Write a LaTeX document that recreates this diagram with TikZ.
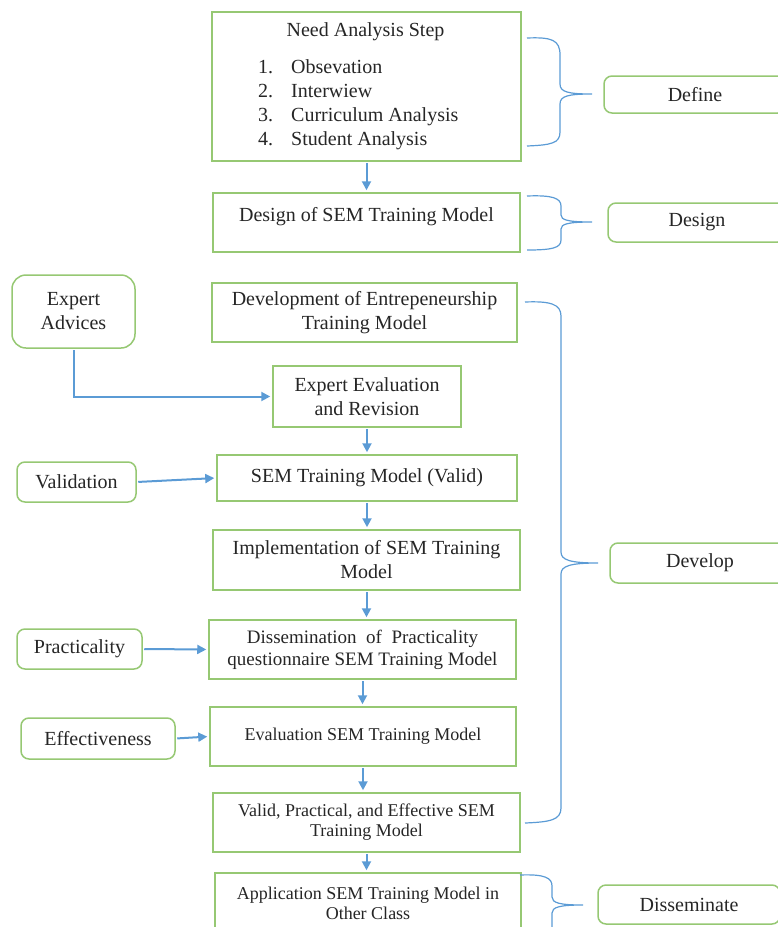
\documentclass[tikz,border=0pt]{standalone}
\usepackage{fontspec}
\setmainfont{Liberation Serif}
\usetikzlibrary{arrows.meta}
\definecolor{boxgreen}{RGB}{150,200,115}
\definecolor{arrblue}{RGB}{91,155,213}
\begin{document}
\begin{tikzpicture}[x=1pt,y=-1pt,
  font=\fontsize{20}{24}\selectfont,
  box/.style={draw=boxgreen, line width=1.5pt, fill=white, align=center, text=black!85, inner sep=0pt},
  sbox/.style={box, rounded corners=8pt},
  smalltxt/.style={font=\fontsize{18}{20}\selectfont},
  midtxt/.style={font=\fontsize{19}{22}\selectfont},
  plain/.style={text=black!85, inner sep=0pt},
  arr/.style={draw=arrblue, line width=2pt, shorten <=1.5pt, shorten >=2pt, -{Triangle[length=9pt,width=9pt]}},
  brc/.style={draw=arrblue, line width=1.2pt}
]
\useasboundingbox (0,0) rectangle (778,927);
\clip (0,0) rectangle (778,927);

% main column
\node[box, minimum width=309pt, minimum height=149pt] (need) at (366.5,86.5) {};
\node[plain] (needtitle) at (365.5,31.5) {Need Analysis Step};
\node[plain, anchor=west] (needlist) at (258,104.5) {\setlength{\tabcolsep}{0pt}\begin{tabular}{l@{\hspace{18pt}}l}1.&Obsevation\\2.&Interwiew\\3.&Curriculum Analysis\\4.&Student Analysis\end{tabular}};

\node[box, minimum width=307pt, minimum height=59pt, text depth=16pt] (design) at (366.5,222.5) {Design of SEM Training Model};
\node[box, minimum width=305pt, minimum height=59pt] (devt) at (364.5,312.5) {Development of Entrepeneurship\\Training Model};
\node[box, minimum width=188pt, minimum height=61pt] (evalrev) at (367,396.5) {Expert Evaluation\\and Revision};
\node[box, minimum width=300pt, minimum height=46pt] (valid) at (367,478) {SEM Training Model (Valid)};
\node[box, minimum width=307pt, minimum height=60pt] (impl) at (366.5,560) {Implementation of SEM Training\\Model};
\node[box, midtxt, minimum width=307pt, minimum height=59pt] (dissem) at (362.5,649.5) {Dissemination\ \ of\ \ Practicality\\questionnaire SEM Training Model};
\node[box, smalltxt, minimum width=306pt, minimum height=59pt] (eval) at (363,736.5) {Evaluation SEM Training Model};
\node[box, smalltxt, minimum width=307pt, minimum height=59pt] (vpe) at (366.5,822.5) {Valid, Practical, and Effective SEM\\Training Model};
\node[box, smalltxt, minimum width=306pt, minimum height=60pt] (app) at (368,903) {Application SEM Training Model in\\Other Class};

% left inputs
\node[sbox, rounded corners=14pt, minimum width=123pt, minimum height=73pt] (ea) at (73.5,311.5) {Expert\\Advices};
\node[sbox, minimum width=119pt, minimum height=40pt] (val) at (76.5,482) {Validation};
\node[sbox, minimum width=125pt, minimum height=40pt] (prac) at (79.5,649) {Practicality};
\node[sbox, minimum width=154pt, minimum height=41pt] (eff) at (98,738.5) {Effectiveness};

% right phase labels
\node[sbox, minimum width=182pt, minimum height=37pt] (define) at (695,94.5) {Define};
\node[sbox, minimum width=178pt, minimum height=39pt] (designlbl) at (697,222.5) {Design};
\node[sbox, minimum width=180pt, minimum height=40pt] (develop) at (700,563) {Develop};
\node[sbox, minimum width=182pt, minimum height=39pt] (dissemlbl) at (689,904.5) {Disseminate};

% arrows
\draw[arr] (need.south) -- (need.south |- design.north);
\draw[arr] (ea.south) |- (evalrev.west);
\draw[arr] (evalrev.south) -- (evalrev.south |- valid.north);
\draw[arr] (val.east) -- (valid.west);
\draw[arr] (valid.south) -- (valid.south |- impl.north);
\draw[arr] (impl.south) -- (impl.south |- dissem.north);
\draw[arr] (prac.east) -- (dissem.west);
\draw[arr] (dissem.south) -- (dissem.south |- eval.north);
\draw[arr] (eff.east) -- (eval.west);
\draw[arr] (eval.south) -- (eval.south |- vpe.north);
\draw[arr] (vpe.south) -- (vpe.south |- app.north);

% braces
\draw[brc] (527,38) .. controls (552,37) and (560,40) .. (560,55) -- (560,84)
  .. controls (560,92) and (568,94) .. (592,94)
  .. controls (568,94) and (560,96) .. (560,104) -- (560,132)
  .. controls (560,143) and (552,145) .. (527,146);
\draw[brc] (527,196) .. controls (552,195) and (561,198) .. (561,206) -- (561,215)
  .. controls (561,220) and (568,222) .. (592,222)
  .. controls (568,222) and (561,224) .. (561,229) -- (561,240)
  .. controls (561,248) and (552,250) .. (527,250);
\draw[brc] (525,302) .. controls (550,301) and (561,304) .. (561,316) -- (561,552)
  .. controls (561,560) and (570,563) .. (598,563)
  .. controls (570,563) and (561,566) .. (561,574) -- (561,808)
  .. controls (561,820) and (550,822) .. (525,823);
\draw[brc] (520,875) .. controls (545,874) and (552,878) .. (552,886) -- (552,897)
  .. controls (552,903) and (560,905) .. (583,905)
  .. controls (560,905) and (552,907) .. (552,913) -- (552,940);
\end{tikzpicture}
\end{document}
